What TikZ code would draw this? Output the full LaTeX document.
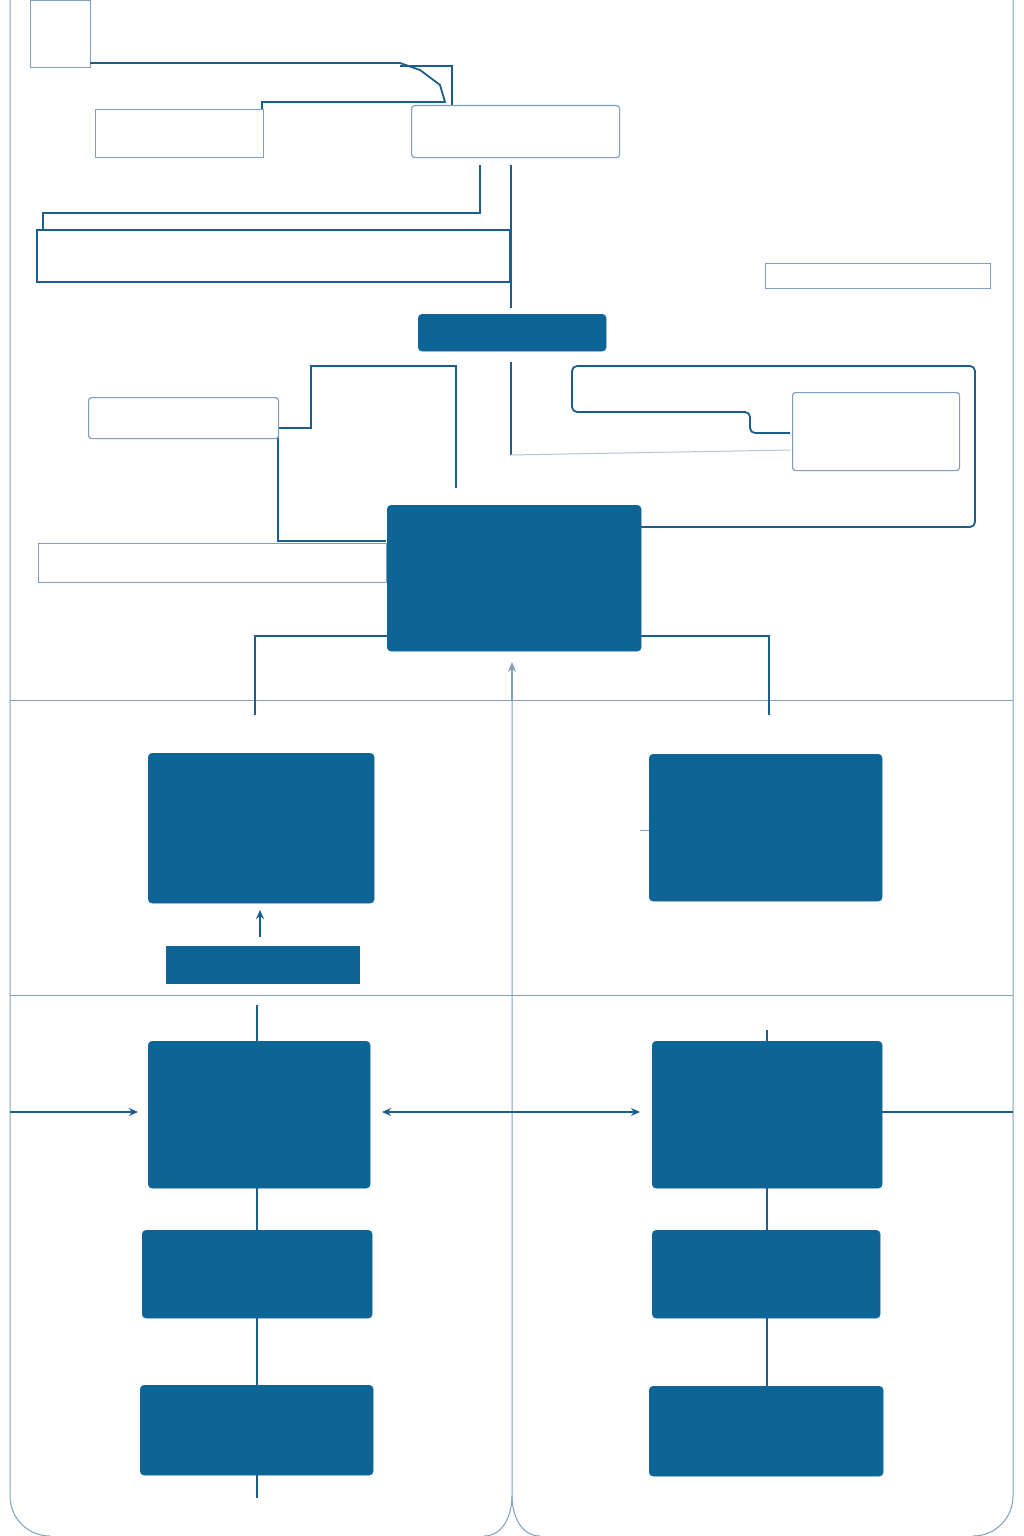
\documentclass[tikz,border=0pt]{standalone}
\usetikzlibrary{arrows.meta}
\begin{document}
\definecolor{blu}{HTML}{0F6496}
\definecolor{lin}{HTML}{1B5E8E}
\definecolor{pale}{HTML}{7F9FBC}
\begin{tikzpicture}[x=1pt,y=-1pt,
  fb/.style={fill=blu,draw=blu,rounded corners=4pt},
  ob/.style={draw=pale,line width=1.2pt,fill=white},
  ln/.style={draw=lin,line width=1.8pt},
  fr/.style={draw=pale,line width=1pt},
  ar/.style={ln,-{Stealth[length=9pt,width=8pt]}}]
\useasboundingbox (0,0) rectangle (1024,1536);
% frame
\draw[fr] (10,0) -- (10,1496) to[out=-90,in=180] (50,1536);
\draw[fr] (1013,0) -- (1013,1496) to[out=-90,in=0] (973,1536);
\draw[fr] (10,700) -- (1013,700);
\draw[fr] (10,995) -- (1013,995);
\draw[fr] (512,680) -- (512,1496) to[out=-90,in=180] (540,1536);
\draw[fr] (512,1496) to[out=-90,in=0] (484,1536);
\draw[draw=pale,line width=1.4pt,-{Stealth[length=10pt,width=8pt]}] (512,700) -- (512,662);
% top area
\node[ob,minimum width=60pt,minimum height=67pt,anchor=north west] (tl) at (30,0) {};
\draw[ln] (90,63) -- (400,63) -- (420,70) -- (440,85) -- (445,102) -- (262,102) -- (262,109);
\draw[ln] (400,66) -- (452,66) -- (452,105);
\node[ob,minimum width=168pt,minimum height=48pt,anchor=north west] (a) at (95,109) {};
\node[ob,minimum width=208pt,minimum height=52pt,anchor=north west,rounded corners=3pt] (b) at (411,105) {};
\draw[ln] (480,165) -- (480,213) -- (43,213) -- (43,230);
\draw[ln] (37,230) rectangle (510,282);
\draw[ln] (511,165) -- (511,308);
\node[ob,minimum width=225pt,minimum height=25pt,anchor=north west] (r) at (765,263) {};
\node[fb,minimum width=188pt,minimum height=37pt,anchor=north west] (d) at (418,314) {};
% middle
\draw[ln] (511,362) -- (511,455);
\draw[draw=pale!60,line width=1pt] (511,455) -- (790,450);
\draw[ln] (456,488) -- (456,366) -- (311,366) -- (311,428) -- (278,428) -- (278,541) -- (386,541);
\node[ob,minimum width=190pt,minimum height=41pt,anchor=north west,rounded corners=3pt] (e) at (88,397) {};
\node[ob,minimum width=348pt,minimum height=39pt,anchor=north west] (f) at (38,543) {};
\draw[ln,rounded corners=5pt] (640,527) -- (975,527) -- (975,366) -- (572,366) -- (572,412) -- (750,412) -- (750,433) -- (790,433);
\node[ob,minimum width=167pt,minimum height=78pt,anchor=north west,rounded corners=3pt] (g) at (792,392) {};
\node[fb,minimum width=254pt,minimum height=146pt,anchor=north west] (h) at (387,505) {};
\draw[ln] (387,636) -- (255,636) -- (255,715);
\draw[ln] (641,636) -- (769,636) -- (769,715);
% row 2
\node[fb,minimum width=226pt,minimum height=150pt,anchor=north west] (i) at (148,753) {};
\node[fb,minimum width=233pt,minimum height=147pt,anchor=north west] (j) at (649,754) {};
\draw[draw=pale,line width=1pt] (640,830) -- (649,830);
\node[fb,rounded corners=0pt,minimum width=193pt,minimum height=37pt,anchor=north west] (k) at (166,946) {};
\draw[ar] (260,937) -- (260,910);
% row 3
\node[fb,minimum width=222pt,minimum height=147pt,anchor=north west] (l) at (148,1041) {};
\node[fb,minimum width=230pt,minimum height=147pt,anchor=north west] (m) at (652,1041) {};
\draw[ln] (257,1005) -- (257,1041);
\draw[ln] (767,1030) -- (767,1041);
\draw[ar] (10,1112) -- (138,1112);
\draw[ar] (512,1112) -- (382,1112);
\draw[ar] (512,1112) -- (640,1112);
\draw[ln] (882,1112) -- (1013,1112);
\node[fb,minimum width=230pt,minimum height=88pt,anchor=north west] (n) at (142,1230) {};
\node[fb,minimum width=233pt,minimum height=90pt,anchor=north west] (o) at (140,1385) {};
\node[fb,minimum width=228pt,minimum height=88pt,anchor=north west] (p) at (652,1230) {};
\node[fb,minimum width=234pt,minimum height=90pt,anchor=north west] (q) at (649,1386) {};
\draw[ln] (257,1188) -- (257,1230); \draw[ln] (257,1318) -- (257,1385); \draw[ln] (257,1475) -- (257,1498);
\draw[ln] (767,1188) -- (767,1230); \draw[ln] (767,1318) -- (767,1386);
\end{tikzpicture}
\end{document}
